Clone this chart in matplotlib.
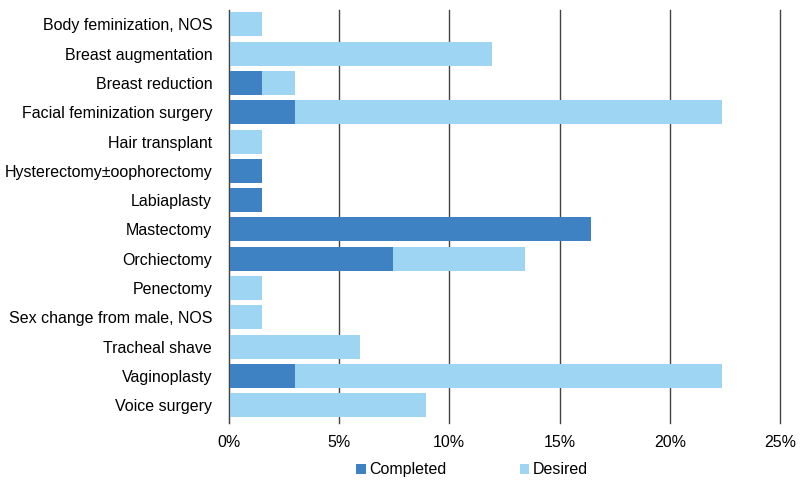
import matplotlib.pyplot as plt
from matplotlib.ticker import FuncFormatter

plt.rcParams["font.family"] = ["Liberation Sans", "DejaVu Sans"]

categories = [
    "Body feminization, NOS",
    "Breast augmentation",
    "Breast reduction",
    "Facial feminization surgery",
    "Hair transplant",
    "Hysterectomy\u00b1oophorectomy",
    "Labiaplasty",
    "Mastectomy",
    "Orchiectomy",
    "Penectomy",
    "Sex change from male, NOS",
    "Tracheal shave",
    "Vaginoplasty",
    "Voice surgery",
]
# percent of respondents
completed = [0, 0, 1.49, 2.99, 0, 1.49, 1.49, 16.42, 7.46, 0, 0, 0, 2.99, 0]
desired = [1.49, 11.94, 1.49, 19.40, 1.49, 0, 0, 0, 5.97, 1.49, 1.49, 5.97, 19.40, 8.96]

completed_color = "#3F82C4"
desired_color = "#9DD5F3"

fig = plt.figure(figsize=(8, 4.86), dpi=100)
ax = fig.add_axes([0.286, 0.13, 0.689, 0.85])

y = list(range(len(categories)))
ax.barh(y, completed, height=0.82, color=completed_color, label="Completed", zorder=3)
ax.barh(y, desired, left=completed, height=0.82, color=desired_color, label="Desired", zorder=3)

ax.set_xlim(0, 25)
ax.set_ylim(len(categories) - 0.4, -0.5)
ax.set_xticks([0, 5, 10, 15, 20, 25])
ax.xaxis.set_major_formatter(FuncFormatter(lambda v, p: f"{v:.0f}%"))
ax.set_yticks(y)
ax.set_yticklabels(categories, fontsize=11.5)
ax.tick_params(axis="x", labelsize=11.5, length=0, pad=9)
ax.tick_params(axis="y", length=0, pad=12)
ax.grid(axis="x", color="#444444", linewidth=1.0, zorder=1)
for line in ax.get_xgridlines():
    line.set_clip_on(False)
for side in ["top", "right", "bottom"]:
    ax.spines[side].set_visible(False)
ax.spines["left"].set_color("#444444")
ax.spines["left"].set_zorder(4)

fig.legend(loc="lower center", bbox_to_anchor=(0.59, -0.012), ncol=2, frameon=False,
           fontsize=11.5, handlelength=0.6, handleheight=0.6, handletextpad=0.2,
           columnspacing=4.6)

fig.savefig("out.png", dpi=100)
